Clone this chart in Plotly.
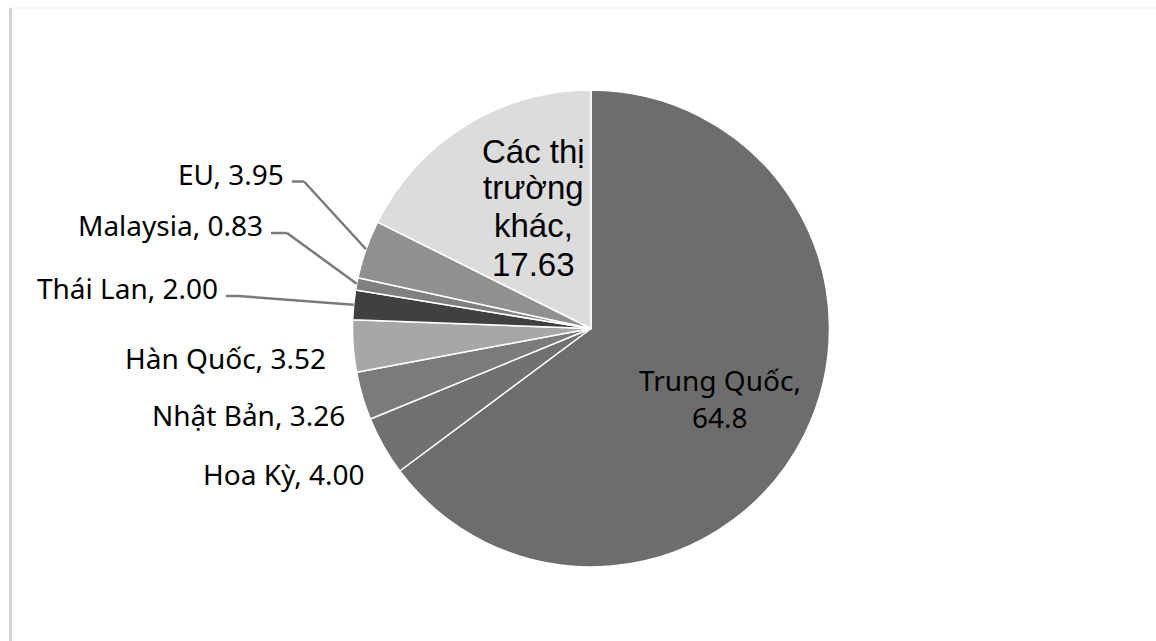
import math
import plotly.graph_objects as go

# ---------------- data ----------------
markets = ["Trung Quốc", "Hoa Kỳ", "Nhật Bản", "Hàn Quốc", "Thái Lan",
           "Malaysia", "EU", "Các thị trường khác"]
shares = [64.8, 4.00, 3.26, 3.52, 2.00, 0.83, 3.95, 17.63]
share_text = ["64.8", "4.00", "3.26", "3.52", "2.00", "0.83", "3.95", "17.63"]

# ---------------- style / layout ----------------
colors = ["#6d6d6d", "#717171", "#7b7b7b", "#a7a7a7", "#404040",
          "#808080", "#909090", "#dcdcdc"]
W, H = 1156, 641
CX, CY, R = 591, 328.5, 238.5
LABEL_FONT = "Noto Sans"
LABEL_SIZE = 28
INNER_FONT = "Liberation Sans"
INNER_SIZE = 33
TXT = "#000000"
LEAD = "#7a7a7a"


def px(x):
    return x / W


def py(y):
    return 1 - y / H


fig = go.Figure(go.Pie(
    labels=markets, values=shares, sort=False, direction="clockwise",
    rotation=0, textinfo="none", hoverinfo="label+value", showlegend=False,
    marker=dict(colors=colors, line=dict(color="white", width=1.5)),
    domain=dict(x=[px(CX - R), px(CX + R)], y=[py(CY + R), py(CY - R)]),
))

# outside labels: right edge x, cap-centre y (pixels), optional leader (start x, elbow x)
outside = {
    "EU": (286, 173.5, (292, 304)),
    "Malaysia": (265, 225, (271, 287)),
    "Thái Lan": (220, 288, (226, 238)),
    "Hàn Quốc": (328, 358, None),
    "Nhật Bản": (347, 415, None),
    "Hoa Kỳ": (367, 474, None),
}
# inside labels: centre x, list of line-centre y
inside = {
    "Trung Quốc": (720, [380, 417], LABEL_FONT, LABEL_SIZE),
    "Các thị trường khác": (533, [151, 188, 226, 264], INNER_FONT, INNER_SIZE),
}

total = sum(shares)
cum = 0.0
mid_angle = {}
for m, v in zip(markets, shares):
    mid_angle[m] = (cum + v / 2) / total * 2 * math.pi
    cum += v

annotations = []
shapes = []
for m, t in zip(markets, share_text):
    if m in outside:
        xr, yc, lead = outside[m]
        annotations.append(dict(
            x=px(xr), y=py(yc), xref="paper", yref="paper", xanchor="right",
            yanchor="middle", text=f"{m}, {t}", showarrow=False,
            font=dict(family=LABEL_FONT, size=LABEL_SIZE, color=TXT)))
        if lead:
            x0, xe = lead
            yl = yc + 8
            a = mid_angle[m]
            ex = CX + R * math.sin(a)
            ey = CY - R * math.cos(a)
            shapes.append(dict(type="line", xref="paper", yref="paper",
                               x0=px(x0), y0=py(yl), x1=px(xe), y1=py(yl),
                               line=dict(color=LEAD, width=2.5)))
            shapes.append(dict(type="line", xref="paper", yref="paper",
                               x0=px(xe), y0=py(yl), x1=px(ex), y1=py(ey),
                               line=dict(color=LEAD, width=2.5)))
    elif m in inside:
        xc, ys, fam, size = inside[m]
        if m == "Trung Quốc":
            lines = [f"{m},", t]
        else:
            lines = ["Các thị", "trường", "khác,", t]
        for line, yy in zip(lines, ys):
            annotations.append(dict(
                x=px(xc), y=py(yy), xref="paper", yref="paper",
                xanchor="center", yanchor="middle", text=line, showarrow=False,
                font=dict(family=fam, size=size, color=TXT)))

# faint chart-area frame
shapes.append(dict(type="line", xref="paper", yref="paper", x0=px(10.5), x1=px(10.5),
                   y0=py(8), y1=0, line=dict(color="#d2d2d2", width=3)))
shapes.append(dict(type="line", xref="paper", yref="paper", x0=px(10), x1=1,
                   y0=py(8), y1=py(8), line=dict(color="#eeeeee", width=1)))

fig.update_layout(
    width=W, height=H, margin=dict(l=0, r=0, t=0, b=0),
    paper_bgcolor="white", plot_bgcolor="white",
    annotations=annotations, shapes=shapes,
)

fig.write_html("out.html")
